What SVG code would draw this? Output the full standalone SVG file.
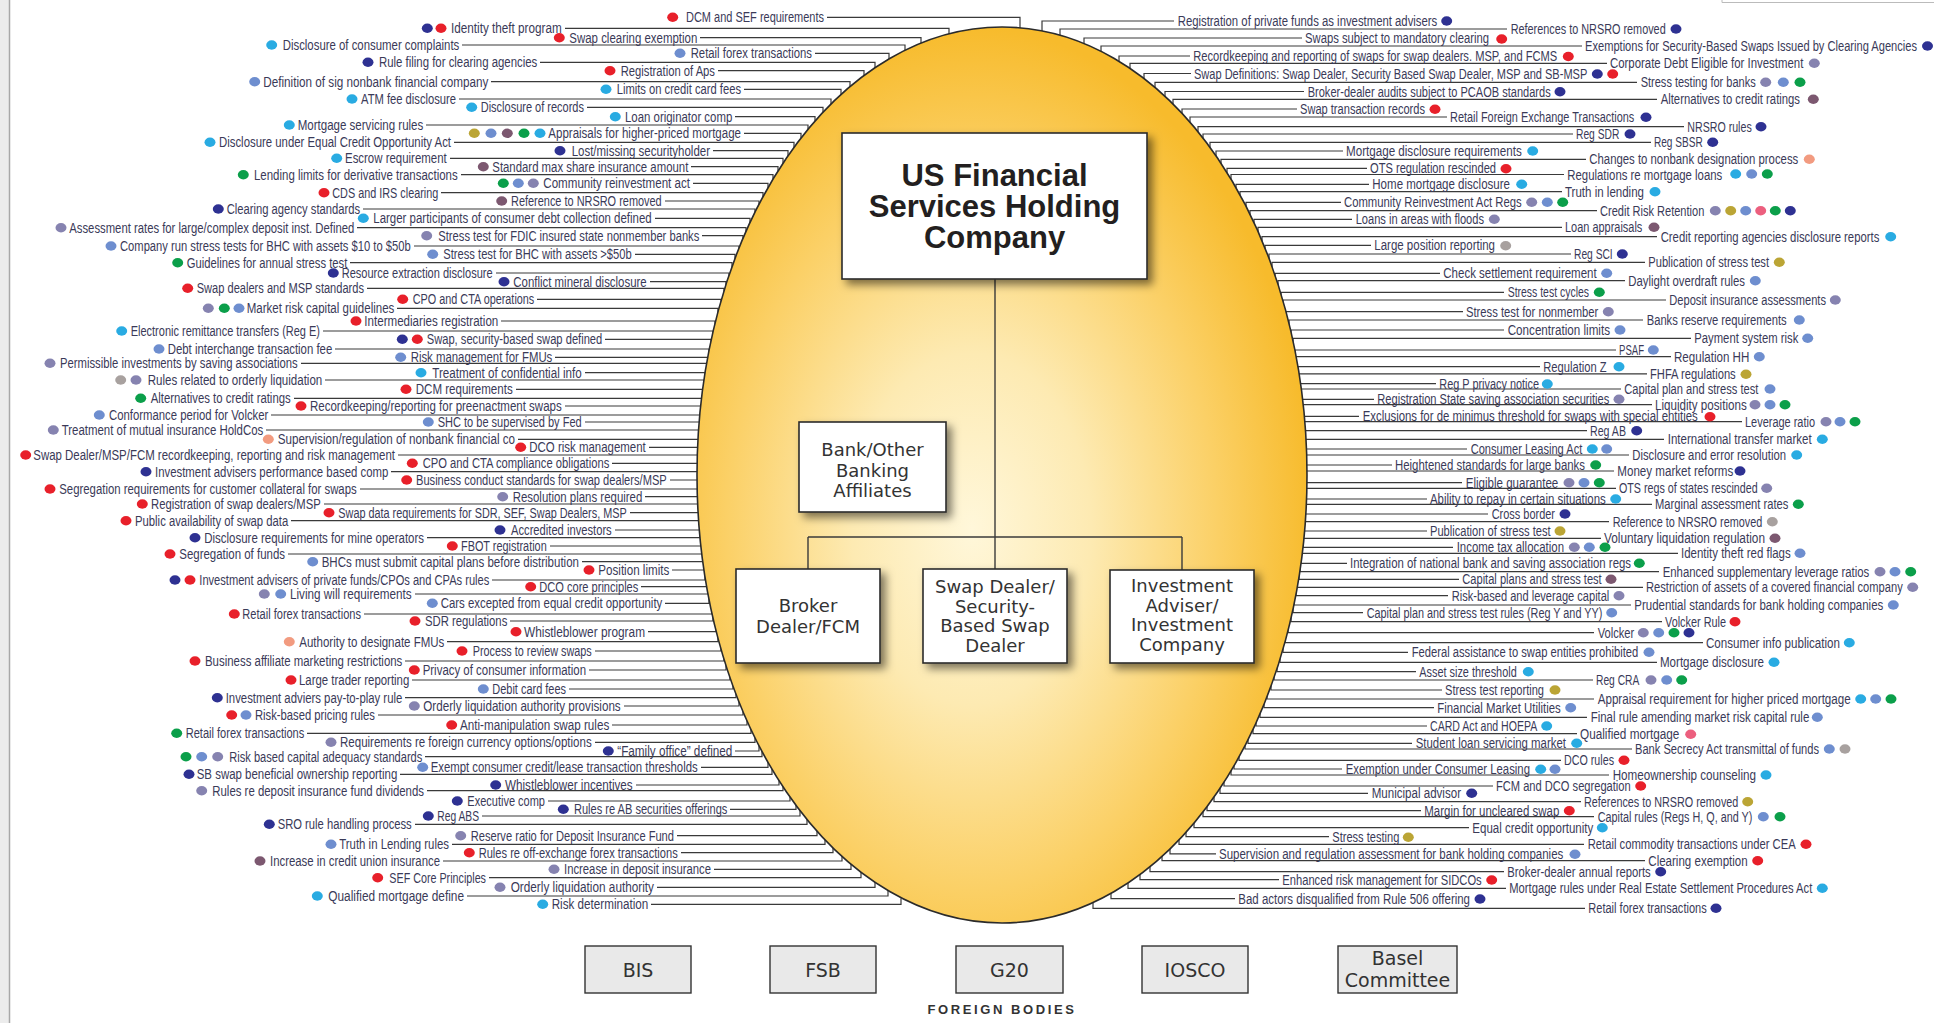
<svg xmlns="http://www.w3.org/2000/svg" xmlns:xlink="http://www.w3.org/1999/xlink" width="1934" height="1023" viewBox="0 0 1934 1023">
<style>
.t text{font-family:'Liberation Sans',Arial,sans-serif;font-size:14px;fill:#3a3a58}
.ld path{fill:none;stroke:#3a3a3a;stroke-width:1.2}
.cn path{fill:none;stroke:#3a3a3a;stroke-width:1.4}
.bx{fill:#fff;stroke:#2a2a2a;stroke-width:1.6}
.bt{font-family:'DejaVu Sans',Verdana,sans-serif;font-size:18px;fill:#333;text-anchor:middle}
.fb{fill:#e9e9e9;stroke:#333;stroke-width:1.4}
.ft{font-family:'DejaVu Sans',Verdana,sans-serif;font-size:19px;fill:#333;text-anchor:middle}
.r{fill:#e8202a}.n{fill:#2e3192}.c{fill:#29abe2}.b{fill:#6e8ecf}.p{fill:#8683b0}.g{fill:#0b9f4a}.m{fill:#7c5870}.o{fill:#bba535}.s{fill:#f29b80}.k{fill:#ec5f7e}.w{fill:#a8a19f}
</style>
<defs>
<ellipse id="d" rx="5.5" ry="4.7"/>
<radialGradient id="eg" cx="0.45" cy="0.56" r="0.56">
<stop offset="0" stop-color="#fff7da"/>
<stop offset="0.35" stop-color="#fdeab2"/>
<stop offset="0.72" stop-color="#fbd066"/>
<stop offset="1" stop-color="#f7bb2c"/>
</radialGradient>
<filter id="sh" x="-20%" y="-20%" width="150%" height="150%">
<feDropShadow dx="5" dy="5" stdDeviation="4.5" flood-color="#000" flood-opacity="0.5"/>
</filter>
</defs>
<rect width="1934" height="1023" fill="#fff"/>
<rect x="0" y="0" width="9" height="1023" fill="#ececec"/>
<path d="M9.5 0V1023" stroke="#a8a8a8" stroke-width="1.5"/>
<path d="M1722 0V2.5H1934" fill="none" stroke="#bbb" stroke-width="1"/>

<g id="leaders" class="ld">
<path d="M827 17.3H1020V28.5"/><path d="M565 28.3H949V34.3"/><path d="M700 37.7H921V43.7"/><path d="M462 45H905V51"/><path d="M815 53.3H889V59.3"/><path d="M540 62.3H875V68.3"/><path d="M718 70.7H864V76.7"/><path d="M491 81.7H850V87.7"/><path d="M744 89.3H841V95.3"/><path d="M459 99H831V105"/><path d="M587 107.3H823V113.3"/><path d="M735 116.7H815V122.7"/><path d="M426 125H808V131"/><path d="M744 133.3H801V139.3"/><path d="M454 142.3H794V148.3"/><path d="M713 150.7H788V156.7"/><path d="M450 158.3H783V164.3"/><path d="M691 166.7H778V172.7"/><path d="M461 174.7H773V180.7"/><path d="M693 183.3H768V189.3"/><path d="M441 192.7H763V198.7"/><path d="M665 201H759V207"/><path d="M363 209H755V215"/><path d="M655 218.3H750V224.3"/><path d="M357 227.7H746V233.7"/><path d="M702 235.7H743V241.7"/><path d="M414 246H739V252"/><path d="M635 254.3H735V260.3"/><path d="M350 262.7H732V268.7"/><path d="M496 273H729V279"/><path d="M650 281.7H726V287.7"/><path d="M367 288.3H724V294.3"/><path d="M537 299.3H721V305.3"/><path d="M397 308.3H718V314.3"/><path d="M501 321H715V327"/><path d="M323 331H713V337"/><path d="M605 339.3H711V345.3"/><path d="M335 349H709V355"/><path d="M555 357.3H708V363.3"/><path d="M301 363.3H707V369.3"/><path d="M585 372.7H705V378.7"/><path d="M325 380H704V386"/><path d="M516 389.3H703V395.3"/><path d="M294 398.3H702V404.3"/><path d="M565 406H701V412"/><path d="M271 415H700V421"/><path d="M585 422H700V428"/><path d="M266 430H699V436"/><path d="M518 439.3H699V445.3"/><path d="M649 447.3H698V453.3"/><path d="M398 455H698V461"/><path d="M612 463.3H698V469.3"/><path d="M391 471.7H698V477.7"/><path d="M670 480H698V474"/><path d="M360 489H698V483"/><path d="M645 496.7H698V490.7"/><path d="M324 504H698V498"/><path d="M630 512.7H699V506.7"/><path d="M291 520.7H699V514.7"/><path d="M615 530H700V524"/><path d="M427 537.7H700V531.7"/><path d="M550 546H701V540"/><path d="M288 554H702V548"/><path d="M582 561.7H703V555.7"/><path d="M672 570H704V564"/><path d="M492 580H705V574"/><path d="M641 586.7H707V580.7"/><path d="M415 594H708V588"/><path d="M665 603.3H709V597.3"/><path d="M364 614H712V608"/><path d="M510 621H713V615"/><path d="M648 631.7H716V625.7"/><path d="M447 641.7H718V635.7"/><path d="M595 651H721V645"/><path d="M405 661H724V655"/><path d="M589 670H726V664"/><path d="M412 680H730V674"/><path d="M569 689H733V683"/><path d="M405 697.7H736V691.7"/><path d="M624 706H739V700"/><path d="M378 715H743V709"/><path d="M612 725H747V719"/><path d="M307 733.3H751V727.3"/><path d="M595 742.3H755V736.3"/><path d="M735 751H759V745"/><path d="M425 756.7H762V750.7"/><path d="M701 767.3H768V761.3"/><path d="M400 774.3H772V768.3"/><path d="M636 785H779V779"/><path d="M427 790.7H783V784.7"/><path d="M548 801H790V795"/><path d="M730 809.3H796V803.3"/><path d="M482 816H800V810"/><path d="M415 824.3H807V818.3"/><path d="M677 835.7H817V829.7"/><path d="M452 844.3H825V838.3"/><path d="M681 852.7H833V846.7"/><path d="M443 861H842V855"/><path d="M714 869.3H851V863.3"/><path d="M489 877.7H861V871.7"/><path d="M657 887.3H875V881.3"/><path d="M467 896H888V890"/><path d="M651 904.3H901V898.3"/>
<path d="M1174 21H1042V31.5"/><path d="M1507 29H1060V35"/><path d="M1302 38H1084V44"/><path d="M1582 46H1101V52"/><path d="M1190 56H1119V62"/><path d="M1607 63.3H1130V69.3"/><path d="M1191 73.5H1144V79.5"/><path d="M1637 82.3H1155V88.3"/><path d="M1304 91.5H1165V97.5"/><path d="M1657 99.3H1173V105.3"/><path d="M1297 109H1182V115"/><path d="M1447 117H1190V123"/><path d="M1684 126.7H1198V132.7"/><path d="M1573 134H1203V140"/><path d="M1651 142.3H1210V148.3"/><path d="M1343 151H1216V157"/><path d="M1586 159.3H1221V165.3"/><path d="M1367 168.3H1227V174.3"/><path d="M1564 174.5H1231V180.5"/><path d="M1369 184.3H1236V190.3"/><path d="M1562 191.7H1240V197.7"/><path d="M1341 202.3H1246V208.3"/><path d="M1597 210.7H1250V216.7"/><path d="M1352 219.3H1254V225.3"/><path d="M1562 227.3H1258V233.3"/><path d="M1657 236.7H1262V242.7"/><path d="M1371 245.3H1265V251.3"/><path d="M1571 254H1269V260"/><path d="M1645 262.3H1272V268.3"/><path d="M1440 273.3H1275V279.3"/><path d="M1625 280.7H1278V286.7"/><path d="M1504 292.3H1281V298.3"/><path d="M1666 300H1283V306"/><path d="M1463 311.7H1286V317.7"/><path d="M1643 320H1289V326"/><path d="M1504 330H1291V336"/><path d="M1691 338.3H1293V344.3"/><path d="M1616 350H1295V356"/><path d="M1671 356.7H1296V362.7"/><path d="M1540 366.7H1298V372.7"/><path d="M1647 373.8H1299V379.8"/><path d="M1436 383.7H1300V389.7"/><path d="M1621 389H1301V395"/><path d="M1374 399.3H1302V405.3"/><path d="M1652 404.7H1303V410.7"/><path d="M1359 416.3H1304V422.3"/><path d="M1742 421.7H1304V427.7"/><path d="M1587 430.7H1305V436.7"/><path d="M1664 439.3H1305V445.3"/><path d="M1467 449H1306V455"/><path d="M1629 455H1306V461"/><path d="M1392 465H1306V471"/><path d="M1614 471H1306V477"/><path d="M1462 482.7H1306V476.7"/><path d="M1616 488.3H1306V482.3"/><path d="M1427 499H1306V493"/><path d="M1652 504.3H1306V498.3"/><path d="M1488 514H1305V508"/><path d="M1609 521.7H1305V515.7"/><path d="M1427 531H1304V525"/><path d="M1601 538.3H1303V532.3"/><path d="M1453 547.3H1303V541.3"/><path d="M1678 553.3H1302V547.3"/><path d="M1347 563.3H1301V557.3"/><path d="M1659 571.7H1300V565.7"/><path d="M1459 579.3H1299V573.3"/><path d="M1643 587.3H1297V581.3"/><path d="M1448 595.7H1296V589.7"/><path d="M1631 605H1294V599"/><path d="M1363 612.7H1293V606.7"/><path d="M1662 621.7H1291V615.7"/><path d="M1594 632.7H1288V626.7"/><path d="M1703 642.7H1285V636.7"/><path d="M1408 652.3H1283V646.3"/><path d="M1657 662.3H1280V656.3"/><path d="M1416 671.7H1277V665.7"/><path d="M1593 680H1274V674"/><path d="M1442 690H1271V684"/><path d="M1594 699H1267V693"/><path d="M1434 707.7H1264V701.7"/><path d="M1587 717.3H1260V711.3"/><path d="M1427 726H1256V720"/><path d="M1577 733.7H1253V727.7"/><path d="M1412 743.3H1248V737.3"/><path d="M1632 749H1245V743"/><path d="M1561 760.3H1239V754.3"/><path d="M1342 769H1234V763"/><path d="M1609 775H1231V769"/><path d="M1493 786H1224V780"/><path d="M1368 793.3H1220V787.3"/><path d="M1581 801.7H1214V795.7"/><path d="M1421 810.7H1207V804.7"/><path d="M1594 816.7H1203V810.7"/><path d="M1469 827.7H1194V821.7"/><path d="M1329 836.7H1186V830.7"/><path d="M1584 844.3H1179V838.3"/><path d="M1216 853.8H1170V847.8"/><path d="M1645 860.7H1162V854.7"/><path d="M1504 871.7H1150V865.7"/><path d="M1279 879.7H1140V873.7"/><path d="M1506 888.3H1128V882.3"/><path d="M1235 898.7H1111V892.7"/><path d="M1585 908.3H1093V902.3"/>
</g>

<ellipse id="egg" cx="1002" cy="475" rx="305" ry="448" fill="url(#eg)" stroke="#2b2b2b" stroke-width="1.6"/>

<g id="inner-connectors" class="cn">
<path d="M995 279V537"/><path d="M808 537H1182"/><path d="M808 537V569"/><path d="M995 537V569"/><path d="M1182 537V570"/>
</g>

<g id="holding">
<rect class="bx" x="842" y="133" width="305" height="146" filter="url(#sh)"/>
<text x="994.5" text-anchor="middle" font-family="'Liberation Sans',Arial,sans-serif" font-weight="bold" font-size="31" fill="#231f20"><tspan y="186">US Financial</tspan><tspan x="994.5" y="217">Services Holding</tspan><tspan x="994.5" y="248">Company</tspan></text>
</g>
<g id="bank">
<rect class="bx" x="799" y="422" width="147" height="90" filter="url(#sh)"/>
<text class="bt"><tspan x="872.5" y="456">Bank/Other</tspan><tspan x="872.5" y="476.5">Banking</tspan><tspan x="872.5" y="497">Affiliates</tspan></text>
</g>
<g id="broker">
<rect class="bx" x="736" y="569" width="144" height="94" filter="url(#sh)"/>
<text class="bt"><tspan x="808" y="612">Broker</tspan><tspan x="808" y="632.5">Dealer/FCM</tspan></text>
</g>
<g id="swapdealer">
<rect class="bx" x="923" y="569" width="144" height="94" filter="url(#sh)"/>
<text class="bt"><tspan x="995" y="593">Swap Dealer/</tspan><tspan x="995" y="612.5">Security-</tspan><tspan x="995" y="632">Based Swap</tspan><tspan x="995" y="651.5">Dealer</tspan></text>
</g>
<g id="investment">
<rect class="bx" x="1110" y="570" width="144" height="93" filter="url(#sh)"/>
<text class="bt"><tspan x="1182" y="592">Investment</tspan><tspan x="1182" y="611.5">Adviser/</tspan><tspan x="1182" y="631">Investment</tspan><tspan x="1182" y="650.5">Company</tspan></text>
</g>

<g id="fb-bis"><rect class="fb" x="585" y="946" width="106" height="47"/><text class="ft" x="638" y="976.5">BIS</text></g>
<g id="fb-fsb"><rect class="fb" x="770" y="946" width="106" height="47"/><text class="ft" x="823" y="976.5">FSB</text></g>
<g id="fb-g20"><rect class="fb" x="956" y="946" width="107" height="47"/><text class="ft" x="1009.5" y="976.5">G20</text></g>
<g id="fb-iosco"><rect class="fb" x="1142" y="946" width="106" height="47"/><text class="ft" x="1195" y="976.5">IOSCO</text></g>
<g id="fb-basel"><rect class="fb" x="1338" y="946" width="119" height="47"/><text class="ft"><tspan x="1397.5" y="965">Basel</tspan><tspan x="1397.5" y="987">Committee</tspan></text></g>
<text id="foreign-bodies" x="1002" y="1014" text-anchor="middle" font-family="'Liberation Sans',Arial,sans-serif" font-weight="bold" font-size="13" letter-spacing="2.6" fill="#333">FOREIGN BODIES</text>

<g id="labels-left" class="t">
<g id="l1"><use href="#d" x="672.7" y="17.3" class="r"/><text x="686" y="22.3" textLength="138" lengthAdjust="spacingAndGlyphs">DCM and SEF requirements</text></g>
<g id="l2"><use href="#d" x="427.3" y="28.3" class="n"/><use href="#d" x="441" y="28.3" class="r"/><text x="451" y="33.3" textLength="110.7" lengthAdjust="spacingAndGlyphs">Identity theft program</text></g>
<g id="l3"><use href="#d" x="559.3" y="37.7" class="r"/><text x="569.3" y="42.7" textLength="128" lengthAdjust="spacingAndGlyphs">Swap clearing exemption</text></g>
<g id="l4"><use href="#d" x="271.7" y="45" class="c"/><text x="282.7" y="50" textLength="176.6" lengthAdjust="spacingAndGlyphs">Disclosure of consumer complaints</text></g>
<g id="l5"><use href="#d" x="680" y="53.3" class="b"/><text x="690.7" y="58.3" textLength="121.3" lengthAdjust="spacingAndGlyphs">Retail forex transactions</text></g>
<g id="l6"><use href="#d" x="368" y="62.3" class="n"/><text x="379" y="67.3" textLength="158.3" lengthAdjust="spacingAndGlyphs">Rule filing for clearing agencies</text></g>
<g id="l7"><use href="#d" x="610" y="70.7" class="r"/><text x="620.7" y="75.7" textLength="94.3" lengthAdjust="spacingAndGlyphs">Registration of Aps</text></g>
<g id="l8"><use href="#d" x="254.7" y="81.7" class="b"/><text x="263.3" y="86.7" textLength="225" lengthAdjust="spacingAndGlyphs">Definition of sig nonbank financial company</text></g>
<g id="l9"><use href="#d" x="606" y="89.3" class="c"/><text x="616.7" y="94.3" textLength="124.3" lengthAdjust="spacingAndGlyphs">Limits on credit card fees</text></g>
<g id="l10"><use href="#d" x="352" y="99" class="c"/><text x="361" y="104" textLength="95" lengthAdjust="spacingAndGlyphs">ATM fee disclosure</text></g>
<g id="l11"><use href="#d" x="471.7" y="107.3" class="c"/><text x="480.7" y="112.3" textLength="103.3" lengthAdjust="spacingAndGlyphs">Disclosure of records</text></g>
<g id="l12"><use href="#d" x="615.3" y="116.7" class="c"/><text x="625" y="121.7" textLength="107.3" lengthAdjust="spacingAndGlyphs">Loan originator comp</text></g>
<g id="l13"><use href="#d" x="289.3" y="125" class="c"/><text x="297.7" y="130" textLength="125.6" lengthAdjust="spacingAndGlyphs">Mortgage servicing rules</text></g>
<g id="l14"><use href="#d" x="474.3" y="133.3" class="o"/><use href="#d" x="491" y="133.3" class="b"/><use href="#d" x="507.3" y="133.3" class="m"/><use href="#d" x="524" y="133.3" class="g"/><use href="#d" x="540" y="133.3" class="c"/><text x="548.3" y="138.3" textLength="192.7" lengthAdjust="spacingAndGlyphs">Appraisals for higher-priced mortgage</text></g>
<g id="l15"><use href="#d" x="210" y="142.3" class="c"/><text x="219" y="147.3" textLength="232" lengthAdjust="spacingAndGlyphs">Disclosure under Equal Credit Opportunity Act</text></g>
<g id="l16"><use href="#d" x="560" y="150.7" class="n"/><text x="571.7" y="155.7" textLength="138.3" lengthAdjust="spacingAndGlyphs">Lost/missing securityholder</text></g>
<g id="l17"><use href="#d" x="336.7" y="158.3" class="c"/><text x="345" y="163.3" textLength="101.7" lengthAdjust="spacingAndGlyphs">Escrow requirement</text></g>
<g id="l18"><use href="#d" x="483.3" y="166.7" class="m"/><text x="492.3" y="171.7" textLength="196" lengthAdjust="spacingAndGlyphs">Standard max share insurance amount</text></g>
<g id="l19"><use href="#d" x="243.3" y="174.7" class="g"/><text x="254" y="179.7" textLength="203.7" lengthAdjust="spacingAndGlyphs">Lending limits for derivative transactions</text></g>
<g id="l20"><use href="#d" x="503.3" y="183.3" class="g"/><use href="#d" x="518.3" y="183.3" class="b"/><use href="#d" x="533.3" y="183.3" class="p"/><text x="543.3" y="188.3" textLength="146.7" lengthAdjust="spacingAndGlyphs">Community reinvestment act</text></g>
<g id="l21"><use href="#d" x="324" y="192.7" class="r"/><text x="332.3" y="197.7" textLength="106" lengthAdjust="spacingAndGlyphs">CDS and IRS clearing</text></g>
<g id="l22"><use href="#d" x="501.7" y="201" class="m"/><text x="511" y="206" textLength="150.7" lengthAdjust="spacingAndGlyphs">Reference to NRSRO removed</text></g>
<g id="l23"><use href="#d" x="218.3" y="209" class="n"/><text x="226.7" y="214" textLength="133.3" lengthAdjust="spacingAndGlyphs">Clearing agency standards</text></g>
<g id="l24"><use href="#d" x="363.3" y="218.3" class="c"/><text x="373.3" y="223.3" textLength="278.4" lengthAdjust="spacingAndGlyphs">Larger participants of consumer debt collection defined</text></g>
<g id="l25"><use href="#d" x="61" y="227.7" class="p"/><text x="69.3" y="232.7" textLength="285" lengthAdjust="spacingAndGlyphs">Assessment rates for large/complex deposit inst. Defined</text></g>
<g id="l26"><use href="#d" x="426.7" y="235.7" class="p"/><text x="438.3" y="240.7" textLength="261" lengthAdjust="spacingAndGlyphs">Stress test for FDIC insured state nonmember banks</text></g>
<g id="l27"><use href="#d" x="111" y="246" class="b"/><text x="120" y="251" textLength="290.7" lengthAdjust="spacingAndGlyphs">Company run stress tests for BHC with assets $10 to $50b</text></g>
<g id="l28"><use href="#d" x="432.7" y="254.3" class="b"/><text x="443.3" y="259.3" textLength="188.4" lengthAdjust="spacingAndGlyphs">Stress test for BHC with assets &gt;$50b</text></g>
<g id="l29"><use href="#d" x="177.7" y="262.7" class="g"/><text x="186.7" y="267.7" textLength="160.6" lengthAdjust="spacingAndGlyphs">Guidelines for annual stress test</text></g>
<g id="l30"><use href="#d" x="333.3" y="273" class="n"/><text x="341.7" y="278" textLength="151" lengthAdjust="spacingAndGlyphs">Resource extraction disclosure</text></g>
<g id="l31"><use href="#d" x="504" y="281.7" class="n"/><text x="513.3" y="286.7" textLength="133.4" lengthAdjust="spacingAndGlyphs">Conflict mineral disclosure</text></g>
<g id="l32"><use href="#d" x="187.7" y="288.3" class="r"/><text x="196.7" y="293.3" textLength="167.3" lengthAdjust="spacingAndGlyphs">Swap dealers and MSP standards</text></g>
<g id="l33"><use href="#d" x="402.7" y="299.3" class="r"/><text x="412.7" y="304.3" textLength="121.6" lengthAdjust="spacingAndGlyphs">CPO and CTA operations</text></g>
<g id="l34"><use href="#d" x="208.3" y="308.3" class="p"/><use href="#d" x="224.3" y="308.3" class="g"/><use href="#d" x="239" y="308.3" class="b"/><text x="246.7" y="313.3" textLength="147.6" lengthAdjust="spacingAndGlyphs">Market risk capital guidelines</text></g>
<g id="l35"><use href="#d" x="356" y="321" class="r"/><text x="364.3" y="326" textLength="134" lengthAdjust="spacingAndGlyphs">Intermediaries registration</text></g>
<g id="l36"><use href="#d" x="121.7" y="331" class="c"/><text x="130.7" y="336" textLength="189.3" lengthAdjust="spacingAndGlyphs">Electronic remittance transfers (Reg E)</text></g>
<g id="l37"><use href="#d" x="402.3" y="339.3" class="n"/><use href="#d" x="417.3" y="339.3" class="r"/><text x="426.7" y="344.3" textLength="175.6" lengthAdjust="spacingAndGlyphs">Swap, security-based swap defined</text></g>
<g id="l38"><use href="#d" x="159" y="349" class="b"/><text x="167.7" y="354" textLength="164.6" lengthAdjust="spacingAndGlyphs">Debt interchange transaction fee</text></g>
<g id="l39"><use href="#d" x="400.7" y="357.3" class="b"/><text x="410.7" y="362.3" textLength="141.6" lengthAdjust="spacingAndGlyphs">Risk management for FMUs</text></g>
<g id="l40"><use href="#d" x="50" y="363.3" class="p"/><text x="60" y="368.3" textLength="237.7" lengthAdjust="spacingAndGlyphs">Permissible investments by saving associations</text></g>
<g id="l41"><use href="#d" x="421" y="372.7" class="c"/><text x="432.3" y="377.7" textLength="149.4" lengthAdjust="spacingAndGlyphs">Treatment of confidential info</text></g>
<g id="l42"><use href="#d" x="120.7" y="380" class="w"/><use href="#d" x="136" y="380" class="p"/><text x="147.7" y="385" textLength="174.6" lengthAdjust="spacingAndGlyphs">Rules related to orderly liquidation</text></g>
<g id="l43"><use href="#d" x="406" y="389.3" class="r"/><text x="415.7" y="394.3" textLength="97" lengthAdjust="spacingAndGlyphs">DCM requirements</text></g>
<g id="l44"><use href="#d" x="140.7" y="398.3" class="g"/><text x="150.7" y="403.3" textLength="140" lengthAdjust="spacingAndGlyphs">Alternatives to credit ratings</text></g>
<g id="l45"><use href="#d" x="301" y="406" class="r"/><text x="310" y="411" textLength="251.7" lengthAdjust="spacingAndGlyphs">Recordkeeping/reporting for preenactment swaps</text></g>
<g id="l46"><use href="#d" x="99.3" y="415" class="b"/><text x="109" y="420" textLength="159.3" lengthAdjust="spacingAndGlyphs">Conformance period for Volcker</text></g>
<g id="l47"><use href="#d" x="428.3" y="422" class="b"/><text x="437.7" y="427" textLength="144" lengthAdjust="spacingAndGlyphs">SHC to be supervised by Fed</text></g>
<g id="l48"><use href="#d" x="53.3" y="430" class="p"/><text x="61.7" y="435" textLength="201.6" lengthAdjust="spacingAndGlyphs">Treatment of mutual insurance HoldCos</text></g>
<g id="l49"><use href="#d" x="268.3" y="439.3" class="s"/><text x="277.7" y="444.3" textLength="237.3" lengthAdjust="spacingAndGlyphs">Supervision/regulation of nonbank financial co</text></g>
<g id="l50"><use href="#d" x="520.7" y="447.3" class="r"/><text x="529.3" y="452.3" textLength="116.4" lengthAdjust="spacingAndGlyphs">DCO risk management</text></g>
<g id="l51"><use href="#d" x="25.7" y="455" class="r"/><text x="33.3" y="460" textLength="361.7" lengthAdjust="spacingAndGlyphs">Swap Dealer/MSP/FCM recordkeeping, reporting and risk management</text></g>
<g id="l52"><use href="#d" x="412.3" y="463.3" class="r"/><text x="422.7" y="468.3" textLength="186.6" lengthAdjust="spacingAndGlyphs">CPO and CTA compliance obligations</text></g>
<g id="l53"><use href="#d" x="146" y="471.7" class="n"/><text x="155" y="476.7" textLength="233.3" lengthAdjust="spacingAndGlyphs">Investment advisers performance based comp</text></g>
<g id="l54"><use href="#d" x="406.7" y="480" class="r"/><text x="416" y="485" textLength="250.7" lengthAdjust="spacingAndGlyphs">Business conduct standards for swap dealers/MSP</text></g>
<g id="l55"><use href="#d" x="50" y="489" class="r"/><text x="59.3" y="494" textLength="297.4" lengthAdjust="spacingAndGlyphs">Segregation requirements for customer collateral for swaps</text></g>
<g id="l56"><use href="#d" x="502.7" y="496.7" class="p"/><text x="512.7" y="501.7" textLength="129.6" lengthAdjust="spacingAndGlyphs">Resolution plans required</text></g>
<g id="l57"><use href="#d" x="142.3" y="504" class="r"/><text x="151" y="509" textLength="169.7" lengthAdjust="spacingAndGlyphs">Registration of swap dealers/MSP</text></g>
<g id="l58"><use href="#d" x="329" y="512.7" class="r"/><text x="338.3" y="517.7" textLength="288.4" lengthAdjust="spacingAndGlyphs">Swap data requirements for SDR, SEF, Swap Dealers, MSP</text></g>
<g id="l59"><use href="#d" x="126" y="520.7" class="r"/><text x="135" y="525.7" textLength="153.3" lengthAdjust="spacingAndGlyphs">Public availability of swap data</text></g>
<g id="l60"><use href="#d" x="500" y="530" class="n"/><text x="511" y="535" textLength="100.7" lengthAdjust="spacingAndGlyphs">Accredited investors</text></g>
<g id="l61"><use href="#d" x="195" y="537.7" class="n"/><text x="204.3" y="542.7" textLength="219.7" lengthAdjust="spacingAndGlyphs">Disclosure requirements for mine operators</text></g>
<g id="l62"><use href="#d" x="452.3" y="546" class="r"/><text x="461" y="551" textLength="85.7" lengthAdjust="spacingAndGlyphs">FBOT registration</text></g>
<g id="l63"><use href="#d" x="170" y="554" class="r"/><text x="179.3" y="559" textLength="105.7" lengthAdjust="spacingAndGlyphs">Segregation of funds</text></g>
<g id="l64"><use href="#d" x="312.7" y="561.7" class="b"/><text x="321.7" y="566.7" textLength="257.3" lengthAdjust="spacingAndGlyphs">BHCs must submit capital plans before distribution</text></g>
<g id="l65"><use href="#d" x="589" y="570" class="r"/><text x="598.3" y="575" textLength="71" lengthAdjust="spacingAndGlyphs">Position limits</text></g>
<g id="l66"><use href="#d" x="175" y="580" class="n"/><use href="#d" x="190" y="580" class="r"/><text x="199.3" y="585" textLength="290" lengthAdjust="spacingAndGlyphs">Investment advisers of private funds/CPOs and CPAs rules</text></g>
<g id="l67"><use href="#d" x="530.7" y="586.7" class="r"/><text x="539.3" y="591.7" textLength="99" lengthAdjust="spacingAndGlyphs">DCO core principles</text></g>
<g id="l68"><use href="#d" x="264.3" y="594" class="p"/><use href="#d" x="280.7" y="594" class="b"/><text x="290" y="599" textLength="121.7" lengthAdjust="spacingAndGlyphs">Living will requirements</text></g>
<g id="l69"><use href="#d" x="432.3" y="603.3" class="b"/><text x="440.7" y="608.3" textLength="221.6" lengthAdjust="spacingAndGlyphs">Cars excepted from equal credit opportunity</text></g>
<g id="l70"><use href="#d" x="234.3" y="614" class="r"/><text x="242.3" y="619" textLength="118.7" lengthAdjust="spacingAndGlyphs">Retail forex transactions</text></g>
<g id="l71"><use href="#d" x="415" y="621" class="r"/><text x="425" y="626" textLength="82.3" lengthAdjust="spacingAndGlyphs">SDR regulations</text></g>
<g id="l72"><use href="#d" x="516" y="631.7" class="r"/><text x="524" y="636.7" textLength="121" lengthAdjust="spacingAndGlyphs">Whistleblower program</text></g>
<g id="l73"><use href="#d" x="289.3" y="641.7" class="s"/><text x="299.3" y="646.7" textLength="145" lengthAdjust="spacingAndGlyphs">Authority to designate FMUs</text></g>
<g id="l74"><use href="#d" x="462" y="651" class="r"/><text x="472.7" y="656" textLength="119" lengthAdjust="spacingAndGlyphs">Process to review swaps</text></g>
<g id="l75"><use href="#d" x="195" y="661" class="r"/><text x="205" y="666" textLength="197.3" lengthAdjust="spacingAndGlyphs">Business affiliate marketing restrictions</text></g>
<g id="l76"><use href="#d" x="414.3" y="670" class="r"/><text x="422.7" y="675" textLength="163.3" lengthAdjust="spacingAndGlyphs">Privacy of consumer information</text></g>
<g id="l77"><use href="#d" x="291" y="680" class="r"/><text x="299" y="685" textLength="110.3" lengthAdjust="spacingAndGlyphs">Large trader reporting</text></g>
<g id="l78"><use href="#d" x="483.3" y="689" class="b"/><text x="492.3" y="694" textLength="73.7" lengthAdjust="spacingAndGlyphs">Debit card fees</text></g>
<g id="l79"><use href="#d" x="217.3" y="697.7" class="n"/><text x="225.7" y="702.7" textLength="176.6" lengthAdjust="spacingAndGlyphs">Investment adviers pay-to-play rule</text></g>
<g id="l80"><use href="#d" x="414.3" y="706" class="p"/><text x="423.3" y="711" textLength="197.4" lengthAdjust="spacingAndGlyphs">Orderly liquidation authority provisions</text></g>
<g id="l81"><use href="#d" x="231.7" y="715" class="r"/><use href="#d" x="246" y="715" class="b"/><text x="255" y="720" textLength="120" lengthAdjust="spacingAndGlyphs">Risk-based pricing rules</text></g>
<g id="l82"><use href="#d" x="451.7" y="725" class="r"/><text x="460" y="730" textLength="149.3" lengthAdjust="spacingAndGlyphs">Anti-manipulation swap rules</text></g>
<g id="l83"><use href="#d" x="176.7" y="733.3" class="g"/><text x="185.7" y="738.3" textLength="118.6" lengthAdjust="spacingAndGlyphs">Retail forex transactions</text></g>
<g id="l84"><use href="#d" x="331" y="742.3" class="p"/><text x="340" y="747.3" textLength="251.7" lengthAdjust="spacingAndGlyphs">Requirements re foreign currency options/options</text></g>
<g id="l85"><use href="#d" x="608.3" y="751" class="n"/><text x="617.3" y="756" textLength="115" lengthAdjust="spacingAndGlyphs">“Family office” defined</text></g>
<g id="l86"><use href="#d" x="186" y="756.7" class="g"/><use href="#d" x="201.7" y="756.7" class="b"/><use href="#d" x="217.7" y="756.7" class="p"/><text x="229.3" y="761.7" textLength="193" lengthAdjust="spacingAndGlyphs">Risk based capital adequacy standards</text></g>
<g id="l87"><use href="#d" x="422.7" y="767.3" class="b"/><text x="430.7" y="772.3" textLength="267" lengthAdjust="spacingAndGlyphs">Exempt consumer credit/lease transaction thresholds</text></g>
<g id="l88"><use href="#d" x="189" y="774.3" class="n"/><text x="196.7" y="779.3" textLength="200.6" lengthAdjust="spacingAndGlyphs">SB swap beneficial ownership reporting</text></g>
<g id="l89"><use href="#d" x="495.7" y="785" class="n"/><text x="505" y="790" textLength="127.7" lengthAdjust="spacingAndGlyphs">Whistleblower incentives</text></g>
<g id="l90"><use href="#d" x="201.7" y="790.7" class="p"/><text x="212.3" y="795.7" textLength="211.7" lengthAdjust="spacingAndGlyphs">Rules re deposit insurance fund dividends</text></g>
<g id="l91"><use href="#d" x="457.3" y="801" class="n"/><text x="467.3" y="806" textLength="77.7" lengthAdjust="spacingAndGlyphs">Executive comp</text></g>
<g id="l92"><use href="#d" x="563.3" y="809.3" class="n"/><text x="574" y="814.3" textLength="153.3" lengthAdjust="spacingAndGlyphs">Rules re AB securities offerings</text></g>
<g id="l93"><use href="#d" x="428.3" y="816" class="n"/><text x="437.3" y="821" textLength="41.7" lengthAdjust="spacingAndGlyphs">Reg ABS</text></g>
<g id="l94"><use href="#d" x="269.3" y="824.3" class="n"/><text x="277.7" y="829.3" textLength="134" lengthAdjust="spacingAndGlyphs">SRO rule handling process</text></g>
<g id="l95"><use href="#d" x="460.7" y="835.7" class="p"/><text x="470.7" y="840.7" textLength="203.3" lengthAdjust="spacingAndGlyphs">Reserve ratio for Deposit Insurance Fund</text></g>
<g id="l96"><use href="#d" x="331" y="844.3" class="b"/><text x="339.3" y="849.3" textLength="109.7" lengthAdjust="spacingAndGlyphs">Truth in Lending rules</text></g>
<g id="l97"><use href="#d" x="469.3" y="852.7" class="r"/><text x="478.7" y="857.7" textLength="199" lengthAdjust="spacingAndGlyphs">Rules re off-exchange forex transactions</text></g>
<g id="l98"><use href="#d" x="260" y="861" class="m"/><text x="270" y="866" textLength="170" lengthAdjust="spacingAndGlyphs">Increase in credit union insurance</text></g>
<g id="l99"><use href="#d" x="554" y="869.3" class="p"/><text x="564" y="874.3" textLength="147" lengthAdjust="spacingAndGlyphs">Increase in deposit insurance</text></g>
<g id="l100"><use href="#d" x="377.7" y="877.7" class="r"/><text x="389.3" y="882.7" textLength="96.7" lengthAdjust="spacingAndGlyphs">SEF Core Principles</text></g>
<g id="l101"><use href="#d" x="500" y="887.3" class="p"/><text x="510.7" y="892.3" textLength="143.3" lengthAdjust="spacingAndGlyphs">Orderly liquidation authority</text></g>
<g id="l102"><use href="#d" x="317.3" y="896" class="c"/><text x="328.3" y="901" textLength="135.7" lengthAdjust="spacingAndGlyphs">Qualified mortgage define</text></g>
<g id="l103"><use href="#d" x="542.7" y="904.3" class="c"/><text x="551.7" y="909.3" textLength="96.6" lengthAdjust="spacingAndGlyphs">Risk determination</text></g>
</g>

<g id="labels-right" class="t">
<g id="r1"><text x="1177.7" y="25.7" textLength="259.6" lengthAdjust="spacingAndGlyphs">Registration of private funds as investment advisers</text><use href="#d" x="1446.7" y="21" class="n"/></g>
<g id="r2"><text x="1510.7" y="34" textLength="155" lengthAdjust="spacingAndGlyphs">References to NRSRO removed</text><use href="#d" x="1676" y="29" class="n"/></g>
<g id="r3"><text x="1305" y="43" textLength="184" lengthAdjust="spacingAndGlyphs">Swaps subject to mandatory clearing</text><use href="#d" x="1501.7" y="39" class="r"/></g>
<g id="r4"><text x="1585" y="51" textLength="332" lengthAdjust="spacingAndGlyphs">Exemptions for Security-Based Swaps Issued by Clearing Agencies</text><use href="#d" x="1927.5" y="46" class="n"/></g>
<g id="r5"><text x="1193.3" y="61" textLength="364" lengthAdjust="spacingAndGlyphs">Recordkeeping and reporting of swaps for swap dealers. MSP, and FCMS</text><use href="#d" x="1568.3" y="56.5" class="r"/></g>
<g id="r6"><text x="1610" y="68.3" textLength="193.3" lengthAdjust="spacingAndGlyphs">Corporate Debt Eligible for Investment</text><use href="#d" x="1814.3" y="63.3" class="p"/></g>
<g id="r7"><text x="1194" y="78.5" textLength="393.3" lengthAdjust="spacingAndGlyphs">Swap Definitions: Swap Dealer, Security Based Swap Dealer, MSP and SB-MSP</text><use href="#d" x="1597.3" y="74" class="n"/><use href="#d" x="1612.7" y="74" class="r"/></g>
<g id="r8"><text x="1640.7" y="87.3" textLength="115" lengthAdjust="spacingAndGlyphs">Stress testing for banks</text><use href="#d" x="1765.7" y="82.3" class="p"/><use href="#d" x="1783.3" y="82.3" class="b"/><use href="#d" x="1800" y="82.3" class="g"/></g>
<g id="r9"><text x="1307.7" y="96.5" textLength="243" lengthAdjust="spacingAndGlyphs">Broker-dealer audits subject to PCAOB standards</text><use href="#d" x="1560" y="91.7" class="n"/></g>
<g id="r10"><text x="1660.7" y="104.3" textLength="139.3" lengthAdjust="spacingAndGlyphs">Alternatives to credit ratings</text><use href="#d" x="1813.3" y="99.3" class="m"/></g>
<g id="r11"><text x="1300" y="114" textLength="125" lengthAdjust="spacingAndGlyphs">Swap transaction records</text><use href="#d" x="1435" y="109.3" class="r"/></g>
<g id="r12"><text x="1450" y="122" textLength="184.3" lengthAdjust="spacingAndGlyphs">Retail Foreign Exchange Transactions</text><use href="#d" x="1646" y="117.3" class="n"/></g>
<g id="r13"><text x="1687.3" y="131.7" textLength="64.4" lengthAdjust="spacingAndGlyphs">NRSRO rules</text><use href="#d" x="1761" y="126.7" class="n"/></g>
<g id="r14"><text x="1576" y="139" textLength="43.3" lengthAdjust="spacingAndGlyphs">Reg SDR</text><use href="#d" x="1630" y="134" class="n"/></g>
<g id="r15"><text x="1654" y="147.3" textLength="48.7" lengthAdjust="spacingAndGlyphs">Reg SBSR</text><use href="#d" x="1712.7" y="142.3" class="n"/></g>
<g id="r16"><text x="1346" y="156" textLength="175.7" lengthAdjust="spacingAndGlyphs">Mortgage disclosure requirements</text><use href="#d" x="1532.7" y="151" class="c"/></g>
<g id="r17"><text x="1589.3" y="164.3" textLength="209" lengthAdjust="spacingAndGlyphs">Changes to nonbank designation process</text><use href="#d" x="1809.3" y="159.3" class="s"/></g>
<g id="r18"><text x="1370" y="173.3" textLength="126" lengthAdjust="spacingAndGlyphs">OTS regulation rescinded</text><use href="#d" x="1506" y="168.7" class="r"/></g>
<g id="r19"><text x="1567.3" y="179.5" textLength="155" lengthAdjust="spacingAndGlyphs">Regulations re mortgage loans</text><use href="#d" x="1735.7" y="174" class="c"/><use href="#d" x="1751.7" y="174" class="b"/><use href="#d" x="1767.3" y="174" class="g"/></g>
<g id="r20"><text x="1372.3" y="189.3" textLength="137.7" lengthAdjust="spacingAndGlyphs">Home mortgage disclosure</text><use href="#d" x="1521.7" y="184.3" class="c"/></g>
<g id="r21"><text x="1565" y="196.7" textLength="79" lengthAdjust="spacingAndGlyphs">Truth in lending</text><use href="#d" x="1655" y="191.7" class="c"/></g>
<g id="r22"><text x="1344" y="207.3" textLength="177.7" lengthAdjust="spacingAndGlyphs">Community Reinvestment Act Regs</text><use href="#d" x="1531.7" y="202.3" class="p"/><use href="#d" x="1547.3" y="202.3" class="b"/><use href="#d" x="1562.7" y="202.3" class="g"/></g>
<g id="r23"><text x="1600" y="215.7" textLength="104.3" lengthAdjust="spacingAndGlyphs">Credit Risk Retention</text><use href="#d" x="1715.3" y="210.7" class="p"/><use href="#d" x="1730.7" y="210.7" class="o"/><use href="#d" x="1745.7" y="210.7" class="b"/><use href="#d" x="1760.7" y="210.7" class="k"/><use href="#d" x="1775.3" y="210.7" class="g"/><use href="#d" x="1790.3" y="210.7" class="n"/></g>
<g id="r24"><text x="1355.7" y="224.3" textLength="128.3" lengthAdjust="spacingAndGlyphs">Loans in areas with floods</text><use href="#d" x="1494.3" y="219.3" class="p"/></g>
<g id="r25"><text x="1565" y="232.3" textLength="77.3" lengthAdjust="spacingAndGlyphs">Loan appraisals</text><use href="#d" x="1654" y="227.3" class="m"/></g>
<g id="r26"><text x="1660.7" y="241.7" textLength="218.6" lengthAdjust="spacingAndGlyphs">Credit reporting agencies disclosure reports</text><use href="#d" x="1890.7" y="236.7" class="c"/></g>
<g id="r27"><text x="1374.3" y="250.3" textLength="120.7" lengthAdjust="spacingAndGlyphs">Large position reporting</text><use href="#d" x="1505.7" y="245.7" class="w"/></g>
<g id="r28"><text x="1574" y="259" textLength="38.7" lengthAdjust="spacingAndGlyphs">Reg SCI</text><use href="#d" x="1622.3" y="254" class="n"/></g>
<g id="r29"><text x="1648.3" y="267.3" textLength="120.7" lengthAdjust="spacingAndGlyphs">Publication of stress test</text><use href="#d" x="1779.3" y="262.3" class="o"/></g>
<g id="r30"><text x="1443.3" y="278.3" textLength="153.4" lengthAdjust="spacingAndGlyphs">Check settlement requirement</text><use href="#d" x="1606.7" y="273.3" class="b"/></g>
<g id="r31"><text x="1628.3" y="285.7" textLength="116.7" lengthAdjust="spacingAndGlyphs">Daylight overdraft rules</text><use href="#d" x="1755.3" y="280.7" class="b"/></g>
<g id="r32"><text x="1507.7" y="297.3" textLength="81.3" lengthAdjust="spacingAndGlyphs">Stress test cycles</text><use href="#d" x="1599.3" y="292.3" class="g"/></g>
<g id="r33"><text x="1669.3" y="305" textLength="156.7" lengthAdjust="spacingAndGlyphs">Deposit insurance assessments</text><use href="#d" x="1835.3" y="300" class="p"/></g>
<g id="r34"><text x="1466" y="316.7" textLength="132.3" lengthAdjust="spacingAndGlyphs">Stress test for nonmember</text><use href="#d" x="1608.3" y="311.7" class="p"/></g>
<g id="r35"><text x="1646.7" y="325" textLength="140" lengthAdjust="spacingAndGlyphs">Banks reserve requirements</text><use href="#d" x="1799.3" y="320" class="b"/></g>
<g id="r36"><text x="1507.7" y="335" textLength="102.3" lengthAdjust="spacingAndGlyphs">Concentration limits</text><use href="#d" x="1620" y="330" class="b"/></g>
<g id="r37"><text x="1694.3" y="343.3" textLength="104" lengthAdjust="spacingAndGlyphs">Payment system risk</text><use href="#d" x="1807.7" y="338.3" class="b"/></g>
<g id="r38"><text x="1619" y="355" textLength="25" lengthAdjust="spacingAndGlyphs">PSAF</text><use href="#d" x="1653.3" y="350" class="b"/></g>
<g id="r39"><text x="1674" y="361.7" textLength="75.3" lengthAdjust="spacingAndGlyphs">Regulation HH</text><use href="#d" x="1759.3" y="356.7" class="b"/></g>
<g id="r40"><text x="1543.3" y="371.7" textLength="63.4" lengthAdjust="spacingAndGlyphs">Regulation Z</text><use href="#d" x="1619" y="366.7" class="c"/></g>
<g id="r41"><text x="1650" y="378.8" textLength="85.7" lengthAdjust="spacingAndGlyphs">FHFA regulations</text><use href="#d" x="1746" y="374.3" class="o"/></g>
<g id="r42"><text x="1439.3" y="388.7" textLength="99.7" lengthAdjust="spacingAndGlyphs">Reg P privacy notice</text><use href="#d" x="1547.3" y="384" class="c"/></g>
<g id="r43"><text x="1624.3" y="394" textLength="134" lengthAdjust="spacingAndGlyphs">Capital plan and stress test</text><use href="#d" x="1770" y="389" class="b"/></g>
<g id="r44"><text x="1377.3" y="404.3" textLength="232" lengthAdjust="spacingAndGlyphs">Registration State saving association securities</text><use href="#d" x="1619" y="399.3" class="p"/></g>
<g id="r45"><text x="1655" y="409.7" textLength="91.7" lengthAdjust="spacingAndGlyphs">Liquidity positions</text><use href="#d" x="1755" y="404.7" class="p"/><use href="#d" x="1770" y="404.7" class="b"/><use href="#d" x="1785" y="404.7" class="g"/></g>
<g id="r46"><text x="1362.7" y="421.3" textLength="335" lengthAdjust="spacingAndGlyphs">Exclusions for de minimus threshold for swaps with special entities</text><use href="#d" x="1710" y="416.7" class="r"/></g>
<g id="r47"><text x="1745" y="426.7" textLength="70" lengthAdjust="spacingAndGlyphs">Leverage ratio</text><use href="#d" x="1826" y="421.7" class="p"/><use href="#d" x="1840" y="421.7" class="b"/><use href="#d" x="1855" y="421.7" class="g"/></g>
<g id="r48"><text x="1590" y="435.7" textLength="36" lengthAdjust="spacingAndGlyphs">Reg AB</text><use href="#d" x="1636.7" y="430.7" class="n"/></g>
<g id="r49"><text x="1667.7" y="444.3" textLength="144" lengthAdjust="spacingAndGlyphs">International transfer market</text><use href="#d" x="1822.3" y="439.3" class="c"/></g>
<g id="r50"><text x="1470.7" y="454" textLength="111.6" lengthAdjust="spacingAndGlyphs">Consumer Leasing Act</text><use href="#d" x="1592.3" y="449" class="c"/><use href="#d" x="1606.7" y="449" class="b"/></g>
<g id="r51"><text x="1632.3" y="460" textLength="153.7" lengthAdjust="spacingAndGlyphs">Disclosure and error resolution</text><use href="#d" x="1796.7" y="455" class="c"/></g>
<g id="r52"><text x="1395" y="470" textLength="190" lengthAdjust="spacingAndGlyphs">Heightened standards for large banks</text><use href="#d" x="1595.7" y="465" class="g"/></g>
<g id="r53"><text x="1617.3" y="476" textLength="116" lengthAdjust="spacingAndGlyphs">Money market reforms</text><use href="#d" x="1740" y="471" class="n"/></g>
<g id="r54"><text x="1465.7" y="487.7" textLength="92.6" lengthAdjust="spacingAndGlyphs">Eligible guarantee</text><use href="#d" x="1569" y="482.7" class="p"/><use href="#d" x="1584" y="482.7" class="b"/><use href="#d" x="1599.3" y="482.7" class="g"/></g>
<g id="r55"><text x="1619" y="493.3" textLength="138.7" lengthAdjust="spacingAndGlyphs">OTS regs of states rescinded</text><use href="#d" x="1766.7" y="488.3" class="p"/></g>
<g id="r56"><text x="1430" y="504" textLength="175.7" lengthAdjust="spacingAndGlyphs">Ability to repay in certain situations</text><use href="#d" x="1615.7" y="499" class="c"/></g>
<g id="r57"><text x="1655" y="509.3" textLength="133.3" lengthAdjust="spacingAndGlyphs">Marginal assessment rates</text><use href="#d" x="1798.3" y="504.3" class="g"/></g>
<g id="r58"><text x="1491.7" y="519" textLength="63.3" lengthAdjust="spacingAndGlyphs">Cross border</text><use href="#d" x="1565" y="514" class="n"/></g>
<g id="r59"><text x="1612.7" y="526.7" textLength="149.6" lengthAdjust="spacingAndGlyphs">Reference to NRSRO removed</text><use href="#d" x="1772.3" y="521.7" class="w"/></g>
<g id="r60"><text x="1430" y="536" textLength="120.7" lengthAdjust="spacingAndGlyphs">Publication of stress test</text><use href="#d" x="1560" y="531" class="o"/></g>
<g id="r61"><text x="1604" y="543.3" textLength="161" lengthAdjust="spacingAndGlyphs">Voluntary liquidation regulation</text><use href="#d" x="1775" y="538.3" class="m"/></g>
<g id="r62"><text x="1456.7" y="552.3" textLength="107.3" lengthAdjust="spacingAndGlyphs">Income tax allocation</text><use href="#d" x="1574.3" y="547.3" class="p"/><use href="#d" x="1589.3" y="547.3" class="b"/><use href="#d" x="1605" y="547.3" class="g"/></g>
<g id="r63"><text x="1681" y="558.3" textLength="109.7" lengthAdjust="spacingAndGlyphs">Identity theft red flags</text><use href="#d" x="1800" y="553.3" class="b"/></g>
<g id="r64"><text x="1350" y="568.3" textLength="281" lengthAdjust="spacingAndGlyphs">Integration of national bank and saving association regs</text><use href="#d" x="1639.3" y="563.3" class="g"/></g>
<g id="r65"><text x="1662.7" y="576.7" textLength="206.6" lengthAdjust="spacingAndGlyphs">Enhanced supplementary leverage ratios</text><use href="#d" x="1880" y="571.7" class="p"/><use href="#d" x="1895" y="571.7" class="b"/><use href="#d" x="1910.7" y="571.7" class="g"/></g>
<g id="r66"><text x="1462.3" y="584.3" textLength="139.4" lengthAdjust="spacingAndGlyphs">Capital plans and stress test</text><use href="#d" x="1611" y="579.3" class="m"/></g>
<g id="r67"><text x="1646" y="592.3" textLength="256.7" lengthAdjust="spacingAndGlyphs">Restriction of assets of a covered financial company</text><use href="#d" x="1912.7" y="587.3" class="p"/></g>
<g id="r68"><text x="1451.7" y="600.7" textLength="157.6" lengthAdjust="spacingAndGlyphs">Risk-based and leverage capital</text><use href="#d" x="1619" y="595.7" class="p"/></g>
<g id="r69"><text x="1634.3" y="610" textLength="249" lengthAdjust="spacingAndGlyphs">Prudential standards for bank holding companies</text><use href="#d" x="1893.3" y="605" class="b"/></g>
<g id="r70"><text x="1366.7" y="617.7" textLength="235.6" lengthAdjust="spacingAndGlyphs">Capital plan and stress test rules (Reg Y and YY)</text><use href="#d" x="1611.7" y="612.7" class="b"/></g>
<g id="r71"><text x="1665" y="626.7" textLength="61" lengthAdjust="spacingAndGlyphs">Volcker Rule</text><use href="#d" x="1735" y="621.7" class="r"/></g>
<g id="r72"><text x="1597.7" y="637.7" textLength="36.6" lengthAdjust="spacingAndGlyphs">Volcker</text><use href="#d" x="1643.3" y="632.7" class="p"/><use href="#d" x="1658.7" y="632.7" class="b"/><use href="#d" x="1674" y="632.7" class="g"/><use href="#d" x="1689" y="632.7" class="n"/></g>
<g id="r73"><text x="1706" y="647.7" textLength="134" lengthAdjust="spacingAndGlyphs">Consumer info publication</text><use href="#d" x="1849.3" y="642.7" class="c"/></g>
<g id="r74"><text x="1411.7" y="657.3" textLength="226.6" lengthAdjust="spacingAndGlyphs">Federal assistance to swap entities prohibited</text><use href="#d" x="1649" y="652.3" class="b"/></g>
<g id="r75"><text x="1660" y="667.3" textLength="104" lengthAdjust="spacingAndGlyphs">Mortgage disclosure</text><use href="#d" x="1774" y="662.3" class="c"/></g>
<g id="r76"><text x="1419.3" y="676.7" textLength="97.4" lengthAdjust="spacingAndGlyphs">Asset size threshold</text><use href="#d" x="1528.3" y="671.7" class="c"/></g>
<g id="r77"><text x="1596" y="685" textLength="43.3" lengthAdjust="spacingAndGlyphs">Reg CRA</text><use href="#d" x="1651" y="680" class="p"/><use href="#d" x="1666.7" y="680" class="b"/><use href="#d" x="1681.7" y="680" class="g"/></g>
<g id="r78"><text x="1445" y="695" textLength="99" lengthAdjust="spacingAndGlyphs">Stress test reporting</text><use href="#d" x="1555" y="690" class="o"/></g>
<g id="r79"><text x="1597.7" y="704" textLength="253" lengthAdjust="spacingAndGlyphs">Appraisal requirement for higher priced mortgage</text><use href="#d" x="1860.7" y="699" class="c"/><use href="#d" x="1875.7" y="699" class="b"/><use href="#d" x="1891" y="699" class="g"/></g>
<g id="r80"><text x="1437.3" y="712.7" textLength="123.4" lengthAdjust="spacingAndGlyphs">Financial Market Utilities</text><use href="#d" x="1570.7" y="707.7" class="b"/></g>
<g id="r81"><text x="1590.7" y="722.3" textLength="218.6" lengthAdjust="spacingAndGlyphs">Final rule amending market risk capital rule</text><use href="#d" x="1817.3" y="717.3" class="b"/></g>
<g id="r82"><text x="1430" y="731" textLength="107.3" lengthAdjust="spacingAndGlyphs">CARD Act and HOEPA</text><use href="#d" x="1546.7" y="726" class="c"/></g>
<g id="r83"><text x="1580" y="738.7" textLength="99.3" lengthAdjust="spacingAndGlyphs">Qualified mortgage</text><use href="#d" x="1690.7" y="734.3" class="k"/></g>
<g id="r84"><text x="1415.7" y="748.3" textLength="150.3" lengthAdjust="spacingAndGlyphs">Student loan servicing market</text><use href="#d" x="1576.7" y="743.3" class="c"/></g>
<g id="r85"><text x="1635" y="754" textLength="184" lengthAdjust="spacingAndGlyphs">Bank Secrecy Act transmittal of funds</text><use href="#d" x="1829.3" y="749" class="b"/><use href="#d" x="1845" y="749" class="w"/></g>
<g id="r86"><text x="1564" y="765.3" textLength="50" lengthAdjust="spacingAndGlyphs">DCO rules</text><use href="#d" x="1624" y="760.3" class="r"/></g>
<g id="r87"><text x="1345.7" y="774" textLength="184.3" lengthAdjust="spacingAndGlyphs">Exemption under Consumer Leasing</text><use href="#d" x="1540.7" y="769.3" class="c"/><use href="#d" x="1555" y="769.3" class="b"/></g>
<g id="r88"><text x="1612.7" y="780" textLength="143.3" lengthAdjust="spacingAndGlyphs">Homeownership counseling</text><use href="#d" x="1766" y="775" class="c"/></g>
<g id="r89"><text x="1496" y="791" textLength="134.7" lengthAdjust="spacingAndGlyphs">FCM and DCO segregation</text><use href="#d" x="1640.7" y="786" class="r"/></g>
<g id="r90"><text x="1371.7" y="798.3" textLength="89.3" lengthAdjust="spacingAndGlyphs">Municipal advisor</text><use href="#d" x="1471.7" y="793.3" class="n"/></g>
<g id="r91"><text x="1584" y="806.7" textLength="154.3" lengthAdjust="spacingAndGlyphs">References to NRSRO removed</text><use href="#d" x="1747.7" y="801.7" class="o"/></g>
<g id="r92"><text x="1424.3" y="815.7" textLength="135" lengthAdjust="spacingAndGlyphs">Margin for uncleared swap</text><use href="#d" x="1569.3" y="810.7" class="r"/></g>
<g id="r93"><text x="1597.7" y="821.7" textLength="154.6" lengthAdjust="spacingAndGlyphs">Capital rules (Regs H, Q, and Y)</text><use href="#d" x="1763.3" y="816.7" class="b"/><use href="#d" x="1780" y="816.7" class="g"/></g>
<g id="r94"><text x="1472.3" y="832.7" textLength="121" lengthAdjust="spacingAndGlyphs">Equal credit opportunity</text><use href="#d" x="1602.3" y="827.7" class="c"/></g>
<g id="r95"><text x="1332.3" y="841.7" textLength="67" lengthAdjust="spacingAndGlyphs">Stress testing</text><use href="#d" x="1408.3" y="837.3" class="o"/></g>
<g id="r96"><text x="1587.7" y="849.3" textLength="208" lengthAdjust="spacingAndGlyphs">Retail commodity transactions under CEA</text><use href="#d" x="1806" y="844.3" class="r"/></g>
<g id="r97"><text x="1219" y="858.8" textLength="344.3" lengthAdjust="spacingAndGlyphs">Supervision and regulation assessment for bank holding companies</text><use href="#d" x="1575" y="854.3" class="b"/></g>
<g id="r98"><text x="1648.3" y="865.7" textLength="99.4" lengthAdjust="spacingAndGlyphs">Clearing exemption</text><use href="#d" x="1757.7" y="860.7" class="r"/></g>
<g id="r99"><text x="1507.3" y="876.7" textLength="143.4" lengthAdjust="spacingAndGlyphs">Broker-dealer annual reports</text><use href="#d" x="1660.7" y="871.7" class="n"/></g>
<g id="r100"><text x="1282.3" y="884.7" textLength="199.4" lengthAdjust="spacingAndGlyphs">Enhanced risk management for SIDCOs</text><use href="#d" x="1491.7" y="880" class="r"/></g>
<g id="r101"><text x="1509.3" y="893.3" textLength="303" lengthAdjust="spacingAndGlyphs">Mortgage rules under Real Estate Settlement Procedures Act</text><use href="#d" x="1822.3" y="888.3" class="c"/></g>
<g id="r102"><text x="1238.3" y="903.7" textLength="231.7" lengthAdjust="spacingAndGlyphs">Bad actors disqualified from Rule 506 offering</text><use href="#d" x="1480" y="899" class="n"/></g>
<g id="r103"><text x="1588.3" y="913.3" textLength="118.4" lengthAdjust="spacingAndGlyphs">Retail forex transactions</text><use href="#d" x="1716" y="908.3" class="n"/></g>
</g>
</svg>
